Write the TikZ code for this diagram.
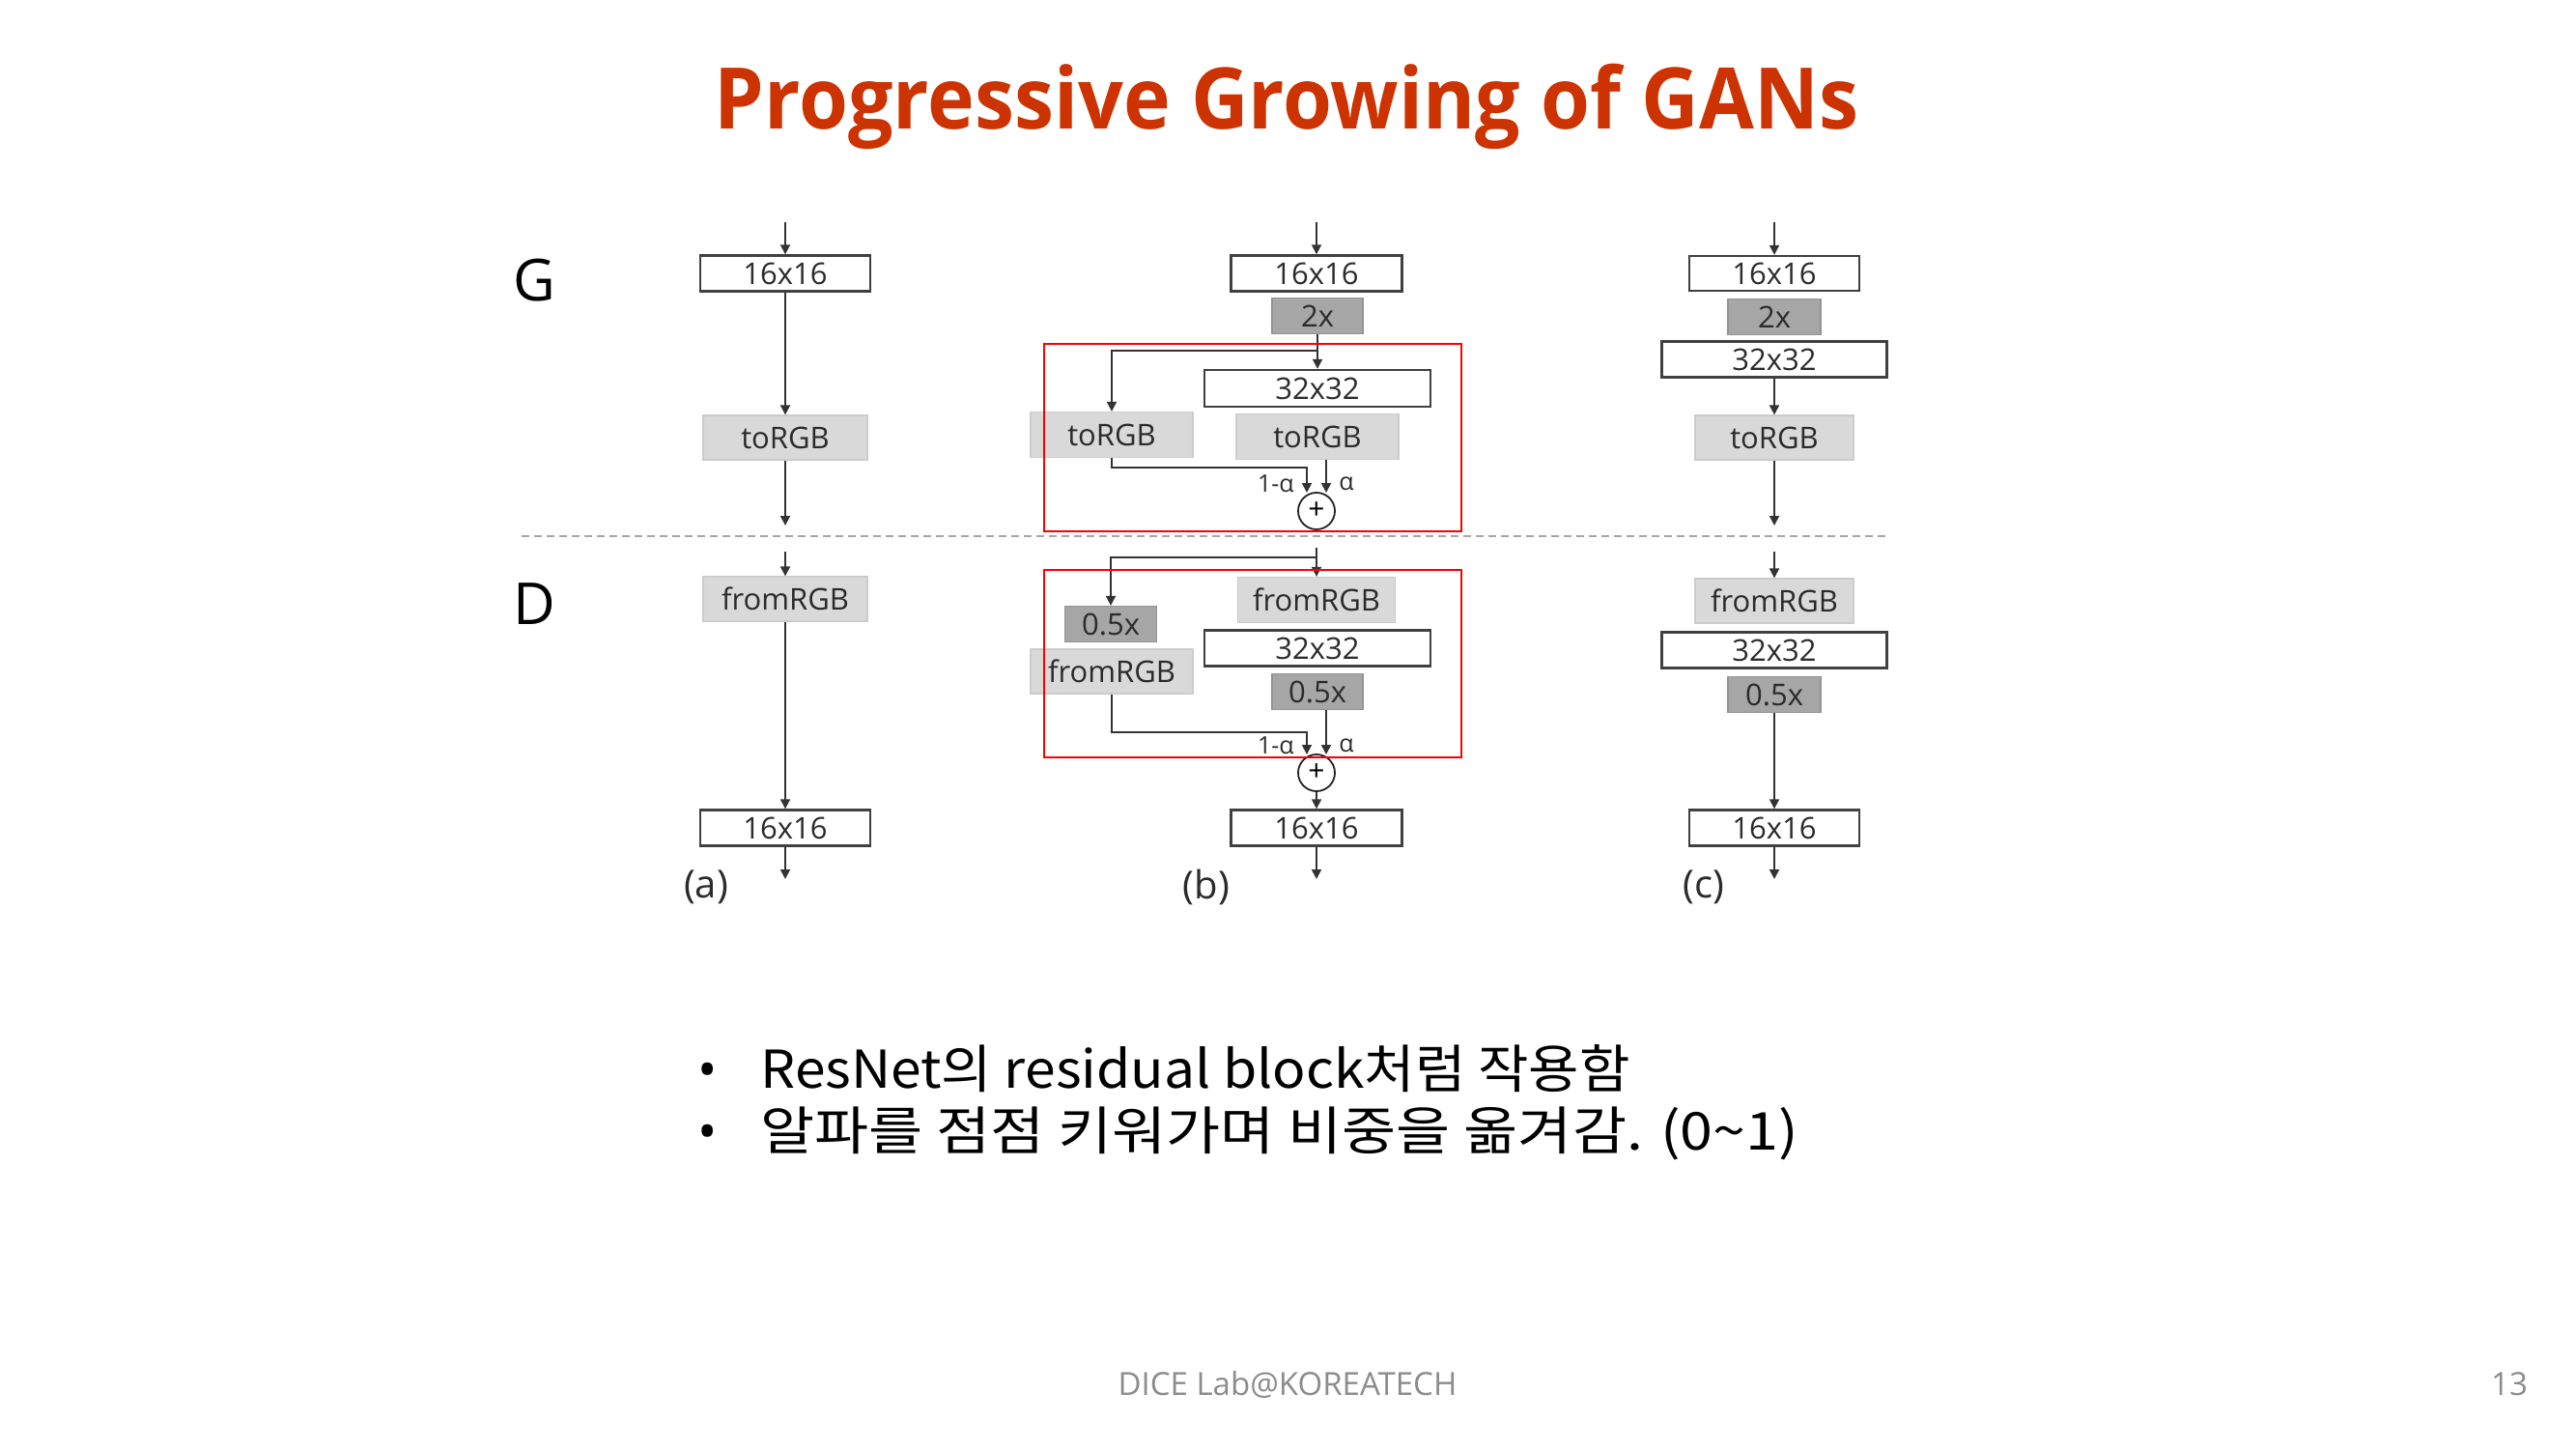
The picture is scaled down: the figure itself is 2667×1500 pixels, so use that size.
\documentclass[tikz,border=0pt]{standalone}
\usepackage{fontspec}
\usepackage{graphicx}
\setmainfont{Open Sans}
\newfontfamily\kr{Noto Sans CJK KR}
\usetikzlibrary{arrows.meta}
\definecolor{titlered}{HTML}{CC3300}
\definecolor{inkgray}{HTML}{2B2B2B}
\definecolor{footgray}{HTML}{8C8C8C}
\begin{document}
\begin{tikzpicture}[x=0.5pt,y=-0.5pt,
  blk/.style={inner sep=0pt, text=inkgray, font=\fontsize{15.5}{18}\selectfont},
  sz/.style 2 args={minimum width=#1*0.5pt, minimum height=#2*0.5pt},
  wbox/.style={blk, draw=black!75, line width=1.2pt, fill=white},
  lbox/.style={blk, draw=black!20, line width=0.6pt, fill=black!15},
  dbox/.style={blk, draw=black!42, line width=0.6pt, fill=black!35},
  sumnode/.style={circle, draw=black!85, line width=0.9pt, fill=white, minimum size=19pt, inner sep=0pt, font=\fontsize{15}{15}\selectfont},
  arr/.style={draw=black!80, line width=0.9pt, -{Triangle[length=5pt,width=5pt]}},
  wlabel/.style={inner sep=0pt, text=inkgray, font=\fontsize{12.5}{14}\selectfont},
  plabel/.style={inner sep=0pt, text=inkgray, font=\fontsize{20}{24}\selectfont},
  gdlabel/.style={inner sep=0pt, text=black, font=\fontsize{30}{36}\selectfont},
  redframe/.style={draw=red, line width=1.3pt},
  bodytext/.style={anchor=base west, inner sep=0pt, font=\kr\fontsize{27}{30}\selectfont},
]
\useasboundingbox (0,0) rectangle (2667,1500);
\fill[white] (0,0) rectangle (2667,1500);

% title
\node[anchor=base, inner sep=0pt, text=titlered, font=\fontsize{44}{50}\selectfont\bfseries] (title) at (1332,133) {\scalebox{0.936}[1]{Progressive Growing of GANs}};

% G / D row labels
\node[gdlabel] (G) at (553,290) {G};
\node[gdlabel] (D) at (553,625) {D};

% separator between generator and discriminator
\draw[black!35, line width=1pt, dash pattern=on 4pt off 2.5pt] (540,555) -- (1956,555);

% ---------- (a) ----------
\node[wbox, sz={176}{37}] (a16g) at (813,283) {16x16};
\node[lbox, sz={170}{46}] (atorgb) at (813,453) {toRGB};
\node[lbox, sz={170}{46}] (afrom) at (813,620) {fromRGB};
\node[wbox, sz={176}{37}] (a16d) at (813,857) {16x16};
\coordinate (atop) at (813,230);
\coordinate (aout) at (813,544);
\coordinate (ain) at (813,571);
\coordinate (abot) at (813,910);
\draw[arr] (atop) -- (a16g.north);
\draw[arr] (a16g.south) -- (atorgb.north);
\draw[arr] (atorgb.south) -- (aout);
\draw[arr] (ain) -- (afrom.north);
\draw[arr] (afrom.south) -- (a16d.north);
\draw[arr] (a16d.south) -- (abot);
\node[plabel] (la) at (731,918) {(a)};

% ---------- (b) ----------
\node[wbox, sz={177}{37}] (b16g) at (1363,283) {16x16};
\node[dbox, sz={94}{37}] (b2x) at (1364,327) {2x};
\node[wbox, sz={234}{38}] (b32g) at (1364,402) {32x32};
\node[lbox, sz={168}{47}] (btorgbl) at (1151,450) {toRGB};
\node[lbox, sz={168}{47}] (btorgbr) at (1364,452) {toRGB};
\node[sumnode] (bsumg) at (1363,529) {+};
\coordinate (btop) at (1363,230);
\coordinate (bsplitg) at (1363,363);
\coordinate (bging1) at (1353,510);
\coordinate (bging2) at (1373,510);
\draw[arr] (btop) -- (b16g.north);
\draw[arr] (b2x.south) -- (b32g.north);
\draw[arr] (bsplitg) -| (btorgbl.north);
\draw[arr] (btorgbl.south) -- ++(0,10) -| (bging1);
\draw[arr] (btorgbr.south -| bging2) -- (bging2);
\node[wlabel, anchor=east] (bg1a) at (1340,501) {1-α};
\node[wlabel, anchor=west] (bga) at (1386,501) {α};
\draw[redframe] (1081,356) rectangle (1513,550);

\node[lbox, sz={163}{47}] (bfromr) at (1363,621) {fromRGB};
\node[wbox, sz={234}{37}] (b32d) at (1364,671) {32x32};
\node[dbox, sz={94}{37}] (b05r) at (1364,716) {0.5x};
\node[dbox, sz={95}{37}] (b05l) at (1150,646) {0.5x};
\node[lbox, sz={168}{46}] (bfroml) at (1151,695) {fromRGB};
\node[sumnode] (bsumd) at (1363,800) {+};
\node[wbox, sz={177}{37}] (b16d) at (1363,857) {16x16};
\coordinate (bdtop) at (1363,567);
\coordinate (bsplitd) at (1363,577);
\coordinate (bdin1) at (1353,781);
\coordinate (bdin2) at (1373,781);
\coordinate (bbot) at (1363,910);
\draw[arr] (bdtop) -- (bfromr.north);
\draw[arr] (bsplitd) -| (b05l.north);
\draw[arr] (bfroml.south) -- ++(0,39) -| (bdin1);
\draw[arr] (b05r.south -| bdin2) -- (bdin2);
\draw[arr] (bsumd.south) -- (b16d.north);
\draw[arr] (b16d.south) -- (bbot);
\node[wlabel, anchor=east] (bd1a) at (1340,772) {1-α};
\node[wlabel, anchor=west] (bda) at (1386,772) {α};
\draw[redframe] (1081,590) rectangle (1513,784);
\node[plabel] (lb) at (1249,918) {(b)};

% ---------- (c) ----------
\node[wbox, sz={176}{36}] (c16g) at (1837,283) {16x16};
\node[dbox, sz={96}{37}] (c2x) at (1837,328) {2x};
\node[wbox, sz={233}{37}] (c32g) at (1837,372) {32x32};
\node[lbox, sz={164}{46}] (ctorgb) at (1837,453) {toRGB};
\node[lbox, sz={164}{46}] (cfrom) at (1837,622) {fromRGB};
\node[wbox, sz={233}{37}] (c32d) at (1837,673) {32x32};
\node[dbox, sz={96}{37}] (c05) at (1837,719) {0.5x};
\node[wbox, sz={176}{37}] (c16d) at (1837,857) {16x16};
\coordinate (ctop) at (1837,230);
\coordinate (cout) at (1837,544);
\coordinate (cin) at (1837,571);
\coordinate (cbot) at (1837,910);
\draw[arr] (ctop) -- (c16g.north);
\draw[arr] (c32g.south) -- (ctorgb.north);
\draw[arr] (ctorgb.south) -- (cout);
\draw[arr] (cin) -- (cfrom.north);
\draw[arr] (c05.south) -- (c16d.north);
\draw[arr] (c16d.south) -- (cbot);
\node[plabel] (lc) at (1764,918) {(c)};

% bullet list
\node[anchor=base, inner sep=0pt, font=\fontsize{27}{30}\selectfont] (dot1) at (733,1126) {•};
\node[bodytext] (line1) at (787,1126) {\scalebox{1.055}[1]{ResNet의 residual block처럼 작용함}};
\node[anchor=base, inner sep=0pt, font=\fontsize{27}{30}\selectfont] (dot2) at (733,1190) {•};
\node[bodytext] (line2) at (787,1190) {\scalebox{1.13}[1]{알파를 점점 키워가며 비중을 옮겨감. (0\textasciitilde 1)}};

% footer
\node[anchor=base, inner sep=0pt, text=footgray, font=\fontsize{16.5}{18}\selectfont] (foot) at (1333,1444) {DICE Lab@KOREATECH};
\node[anchor=base, inner sep=0pt, text=footgray, font=\fontsize{16.5}{18}\selectfont] (pnum) at (2598,1444) {13};
\end{tikzpicture}
\end{document}
